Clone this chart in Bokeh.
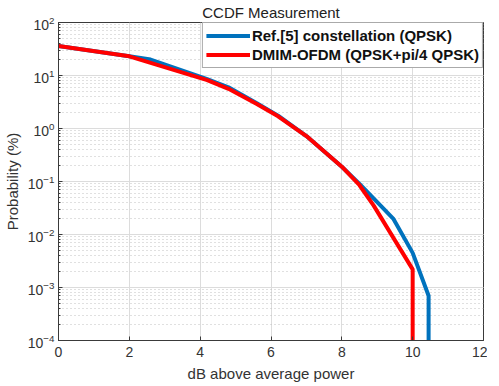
from bokeh.plotting import figure
from bokeh.models import Range1d, FixedTicker, Legend, LegendItem
from bokeh.embed import file_html
from bokeh.resources import INLINE

# data
blue_x = [0, 2.0, 2.6, 4.2, 4.8, 5.6, 6.2, 7.0, 8.0, 8.5, 9.45, 10.0, 10.45, 10.45]
blue_y = [36, 23, 20, 8.5, 6.0, 3.0, 1.75, 0.72, 0.19, 0.09, 0.02, 0.0045, 0.0007, 1e-4]
red_x = [0, 2.0, 4.2, 4.8, 5.6, 6.2, 7.0, 8.0, 8.5, 8.9, 10.0, 10.0]
red_y = [36, 23, 8.2, 5.6, 2.9, 1.7, 0.72, 0.19, 0.085, 0.035, 0.0022, 1e-4]
x_ticks = [0, 2, 4, 6, 8, 10, 12]
blue_label = "Ref.[5] constellation (QPSK)"
red_label = "DMIM-OFDM (QPSK+pi/4 QPSK)"

FONT = "Liberation Sans"
AX = "#3a3a3a"

p = figure(width=483, height=370, y_axis_type="log",
           x_range=Range1d(0, 12), y_range=Range1d(1e-4, 1e2),
           output_backend="svg", toolbar_location=None,
           frame_width=425, frame_height=318,
           min_border_left=54, min_border_right=4, min_border_top=4, min_border_bottom=2,
           title="CCDF Measurement")
p.title.text_font = FONT
p.title.text_font_style = "normal"
p.title.text_font_size = "15px"
p.title.align = "center"
p.title.text_color = "#222222"
p.title.standoff = 3

p.outline_line_color = AX
p.outline_line_width = 1

p.xaxis.ticker = FixedTicker(ticks=x_ticks)
for ax in p.axis:
    ax.axis_line_color = AX
    ax.major_tick_line_color = AX
    ax.minor_tick_line_color = AX
    ax.major_tick_in = 4
    ax.major_tick_out = 0
    ax.minor_tick_in = 2
    ax.minor_tick_out = 0
    ax.major_label_text_font = FONT
    ax.major_label_text_font_size = "14px"
    ax.major_label_text_color = "#333333"
    ax.axis_label_text_font = FONT
    ax.axis_label_text_font_size = "15px"
    ax.axis_label_text_font_style = "normal"
    ax.axis_label_text_color = "#333333"
p.xaxis.minor_tick_line_color = None
p.xaxis.axis_label = "dB above average power"
p.yaxis.axis_label = "Probability (%)"
p.xaxis.major_label_standoff = 6
p.xaxis.axis_label_standoff = 5
p.yaxis.major_label_standoff = 4
p.yaxis.axis_label_standoff = 4

p.xgrid.ticker = FixedTicker(ticks=x_ticks)
p.grid.grid_line_color = "#dcdcdc"
p.grid.grid_line_width = 1
p.ygrid.minor_grid_line_color = "#c0c0c0"
p.ygrid.minor_grid_line_dash = "1 3"
p.ygrid.minor_grid_line_width = 1

rb = p.line(blue_x, blue_y, line_color="#0072BD", line_width=4)
rr = p.line(red_x, red_y, line_color="#FF0000", line_width=4)

legend = Legend(items=[LegendItem(label=blue_label, renderers=[rb]),
                       LegendItem(label=red_label, renderers=[rr])],
                location="top_right")
legend.label_text_font = FONT
legend.label_text_font_style = "bold"
legend.label_text_font_size = "15px"
legend.label_text_color = "#111111"
legend.border_line_color = "#555555"
legend.border_line_width = 1.5
legend.margin = 0
legend.padding = 3
legend.spacing = 0
legend.glyph_width = 44
legend.label_standoff = 2
legend.label_height = 19
legend.glyph_height = 19
legend.background_fill_alpha = 1
p.add_layout(legend)

open("out.html", "w").write(file_html(p, INLINE))
